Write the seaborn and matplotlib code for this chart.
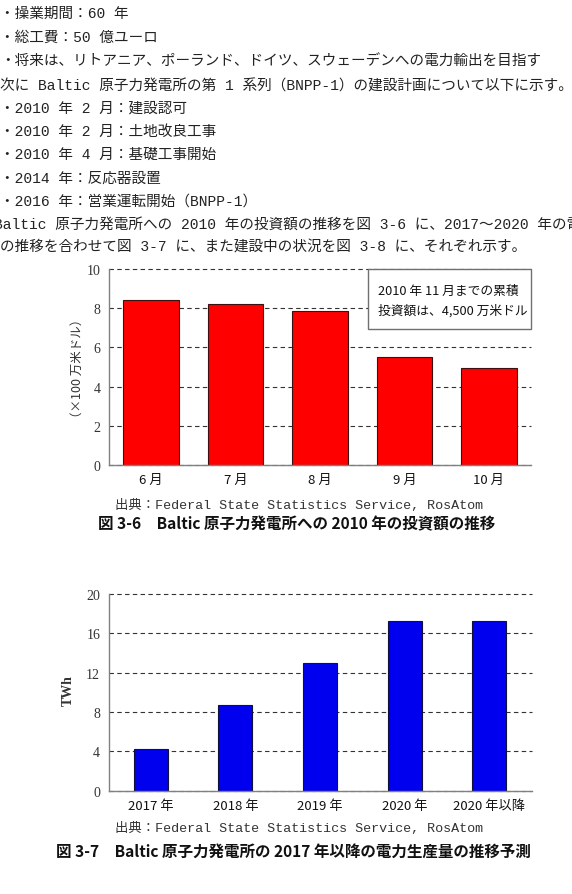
import numpy as np
import pandas as pd
import matplotlib
matplotlib.use("Agg")
import matplotlib.pyplot as plt
import seaborn as sns
from matplotlib.patches import Rectangle

# ---------------- data ----------------
months = ["6 月", "7 月", "8 月", "9 月", "10 月"]
invest = [8.43, 8.21, 7.88, 5.51, 4.97]
invest_ticks = [0, 2, 4, 6, 8, 10]

years = ["2017 年", "2018 年", "2019 年", "2020 年", "2020 年以降"]
power = [4.27, 8.68, 12.96, 17.26, 17.26]
power_ticks = [0, 4, 8, 12, 16, 20]

body_lines = [
    "・操業期間：60 年",
    "・総工費：50 億ユーロ",
    "・将来は、リトアニア、ポーランド、ドイツ、スウェーデンへの電力輸出を目指す",
    "次に Baltic 原子力発電所の第 1 系列（BNPP-1）の建設計画について以下に示す。",
    "・2010 年 2 月：建設認可",
    "・2010 年 2 月：土地改良工事",
    "・2010 年 4 月：基礎工事開始",
    "・2014 年：反応器設置",
    "・2016 年：営業運転開始（BNPP-1）",
    "Baltic 原子力発電所への 2010 年の投資額の推移を図 3-6 に、2017～2020 年の電力",
    "の推移を合わせて図 3-7 に、また建設中の状況を図 3-8 に、それぞれ示す。",
]
note_lines = ["2010 年 11 月までの累積", "投資額は、4,500 万米ドル"]
source_text = "出典：Federal State Statistics Service, RosAtom"
caption1 = "図 3-6　Baltic 原子力発電所への 2010 年の投資額の推移"
caption2 = "図 3-7　Baltic 原子力発電所の 2017 年以降の電力生産量の推移予測"
ylabel1 = "（×100 万米ドル）"
ylabel2 = "TWh"

# ---------------- style ----------------
sns.set_style("white")
JP = ["Noto Sans CJK JP", "DejaVu Sans"]
MONO_JP = ["Liberation Mono", "Noto Sans CJK JP", "DejaVu Sans"]
plt.rcParams["font.family"] = JP

W, H = 572, 895
fig = plt.figure(figsize=(W / 100, H / 100), dpi=100)
fig.patch.set_facecolor("white")

def fx(x):
    return x / W

def fy(y):
    return 1 - y / H

# body text
body_y = [14, 38, 62, 86, 109, 132, 155, 179, 202, 225, 248]
body_x = [0, 0, 0, 0, 0, 0, 0, 0, 0, -6, 0]
for s, x, y in zip(body_lines, body_x, body_y):
    fig.text(fx(x), fy(y), s, ha="left", va="center", fontsize=10.5,
             color="#222222", family=MONO_JP)

def style_axes(ax, ticks, ymax):
    ax.set_xlim(-0.5, 4.5)
    ax.set_ylim(0, ymax)
    ax.set_yticks(ticks)
    ax.set_yticklabels([str(t) for t in ticks], family="Liberation Serif",
                       fontsize=10, color="#333333")
    ax.set_xlabel("")
    ax.set_ylabel("")
    ax.set_facecolor("white")
    ax.yaxis.grid(True, linestyle=(0, (4, 3)), color="#333333", linewidth=0.8)
    ax.xaxis.grid(False)
    ax.set_axisbelow(True)
    for gl in ax.get_ygridlines():
        gl.set_clip_on(False)
    for side in ("top", "right"):
        ax.spines[side].set_visible(False)
    for side in ("left", "bottom"):
        ax.spines[side].set_color("#808080")
        ax.spines[side].set_linewidth(1.0)
    ax.tick_params(axis="y", length=0, pad=6)
    ax.tick_params(axis="x", which="major", length=0, pad=6, labelsize=9.5,
                   labelcolor="#111111")
    ax.set_xticks([0.5, 1.5, 2.5, 3.5, 4.5], minor=True)
    ax.tick_params(axis="x", which="minor", direction="in", length=3,
                   color="#808080", width=1)
    for lab in ax.get_xticklabels():
        lab.set_family(JP)

# ---------------- chart 1 ----------------
ax1 = fig.add_axes([fx(109), fy(466), (531 - 109) / W, (466 - 270) / H])
df1 = pd.DataFrame({"month": months, "value": invest})
sns.barplot(data=df1, x="month", y="value", hue="month",
            palette=["#ff0000"] * len(months), legend=False, width=0.66,
            saturation=1, edgecolor="#3a1010", linewidth=0.8, ax=ax1)
style_axes(ax1, invest_ticks, 10)

bx0 = (368 - 109) / (531 - 109)
by0 = (466 - 329.5) / (466 - 270)
ax1.add_patch(Rectangle((bx0, by0), 1 - bx0, 1 - by0, transform=ax1.transAxes,
                        facecolor="white", edgecolor="#707070", linewidth=1.0,
                        zorder=5, clip_on=False))
for s, y in zip(note_lines, [291.5, 310.5]):
    fig.text(fx(378), fy(y), s, ha="left", va="center", fontsize=9.2,
             color="#111111", family=JP, zorder=10)

fig.text(fx(77), fy(368), ylabel1, rotation=90, ha="center", va="center",
         fontsize=9, color="#333333", family=JP)

fig.text(fx(115), fy(506), source_text, ha="left", va="center", fontsize=9.6,
         color="#333333", family=MONO_JP)
fig.text(fx(98), fy(524), caption1, ha="left", va="center", fontsize=11.2,
         fontweight="bold", color="#111111", family=JP)

# ---------------- chart 2 ----------------
ax2 = fig.add_axes([fx(108.5), fy(791.7), (531.5 - 108.5) / W, (791.7 - 595) / H])
df2 = pd.DataFrame({"year": years, "value": power})
sns.barplot(data=df2, x="year", y="value", hue="year",
            palette=["#0000ee"] * len(years), legend=False, width=0.40,
            saturation=1, edgecolor="#10103a", linewidth=0.8, ax=ax2)
style_axes(ax2, power_ticks, 20)

fig.text(fx(68), fy(691), ylabel2, rotation=90, ha="center", va="center",
         fontsize=10, fontweight="bold", color="#333333", family="Liberation Serif")

fig.text(fx(115), fy(829), source_text, ha="left", va="center", fontsize=9.6,
         color="#333333", family=MONO_JP)
fig.text(fx(56), fy(852), caption2, ha="left", va="center", fontsize=11.2,
         fontweight="bold", color="#111111", family=JP)

fig.savefig("out.png", dpi=100, facecolor="white")
